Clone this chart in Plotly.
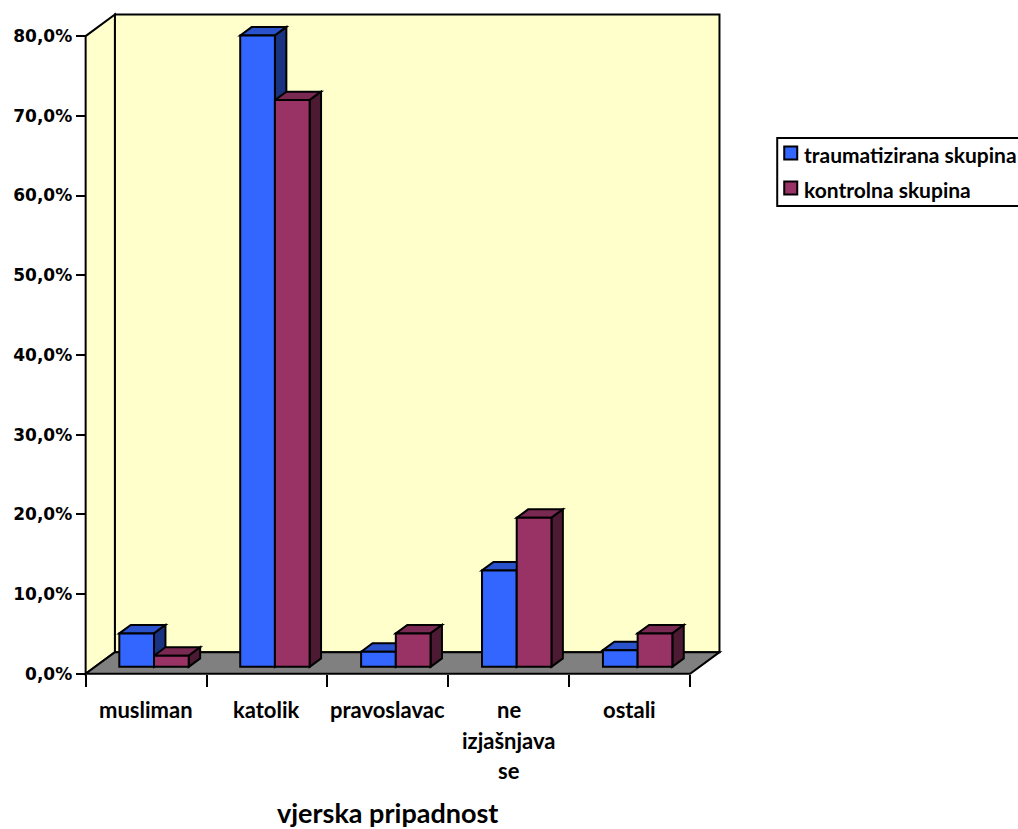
import plotly.graph_objects as go

# ---- data -----------------------------------------------------------------
categories = ["musliman", "katolik", "pravoslavac", "ne izjašnjava se", "ostali"]
series_names = ["traumatizirana skupina", "kontrolna skupina"]
traumatizirana = [4.2, 79.2, 1.9, 12.1, 2.1]
kontrolna = [1.4, 71.1, 4.2, 18.7, 4.2]
y_ticks = [0, 10, 20, 30, 40, 50, 60, 70, 80]
y_tick_labels = [f"{v:.1f}".replace(".", ",") + "%" for v in y_ticks]
x_title = "vjerska pripadnost"

# ---- style ----------------------------------------------------------------
FRONT = ["#3366FF", "#993366"]
TOP = ["#2952CC", "#7A2952"]
SIDE = ["#1A3380", "#4D1A33"]
WALL = "#FFFFCC"
FLOOR = "#808080"
EDGE = "black"
LABEL_FONT = dict(family="Lato", size=22, color="black", weight="bold")
TICK_FONT = dict(family="DejaVu Sans", size=17, color="black", weight="bold")

# ---- geometry of the pseudo-3D box ----------------------------------------
W, H = 1018, 829
X0_PX, X_UNIT = 86.0, 120.8      # pixel of x=0 and pixels per category
Y0_PX, Y_UNIT = 674.3, 7.98      # pixel of 0 % and pixels per percent
XMIN, XMAX = -0.03, 5.28
YMIN, YMAX = -0.4, 83.4
ML = X0_PX + XMIN * X_UNIT
MR = W - (X0_PX + XMAX * X_UNIT)
MT = Y0_PX - YMAX * Y_UNIT
MB = H - (Y0_PX - YMIN * Y_UNIT)

DEPTH_X = 29.3 / X_UNIT          # floor depth, expressed in axis units
DEPTH_Y = 21.7 / Y_UNIT
FRONT_DEPTH = 0.32               # bars' front plane (fraction of floor depth)
BAR_DEPTH = 0.39                 # bar thickness (fraction of floor depth)
BAR_W = 0.287
PAIR_SHIFT = -0.012

n = len(categories)
top_val = y_ticks[-1]


def poly(points, fill, layer="below"):
    d = "M " + " L ".join(f"{x},{y}" for x, y in points) + " Z"
    return dict(type="path", path=d, xref="x", yref="y", fillcolor=fill,
                line=dict(color=EDGE, width=2), layer=layer)


shapes = []
# side wall, back wall, floor
shapes.append(poly([(0, 0), (0, top_val), (DEPTH_X, top_val + DEPTH_Y), (DEPTH_X, DEPTH_Y)], WALL))
shapes.append(poly([(DEPTH_X, DEPTH_Y), (DEPTH_X, top_val + DEPTH_Y),
                    (n + DEPTH_X, top_val + DEPTH_Y), (n + DEPTH_X, DEPTH_Y)], WALL))
shapes.append(poly([(0, 0), (n, 0), (n + DEPTH_X, DEPTH_Y), (DEPTH_X, DEPTH_Y)], FLOOR))

bx, by = FRONT_DEPTH * DEPTH_X, FRONT_DEPTH * DEPTH_Y
dx, dy = BAR_DEPTH * DEPTH_X, BAR_DEPTH * DEPTH_Y
series = [traumatizirana, kontrolna]


def bar_left(k, i):
    return k + 0.5 + PAIR_SHIFT + bx + (i - 1) * BAR_W


# top and side faces of every bar
for k in range(n):
    for i, vals in enumerate(series):
        xl = bar_left(k, i)
        xr = xl + BAR_W
        b = by
        t = by + vals[k]
        shapes.append(poly([(xl, t), (xl + dx, t + dy), (xr + dx, t + dy), (xr, t)], TOP[i]))
        shapes.append(poly([(xr, b), (xr + dx, b + dy), (xr + dx, t + dy), (xr, t)], SIDE[i]))

fig = go.Figure()
# front faces of the bars
for i, vals in enumerate(series):
    fig.add_trace(go.Bar(
        x=[bar_left(k, i) + BAR_W / 2 for k in range(n)],
        y=vals,
        base=[by] * n,
        width=[BAR_W] * n,
        name=series_names[i],
        marker=dict(color=FRONT[i], line=dict(color=EDGE, width=2)),
        showlegend=False,
    ))

annotations = []
# category labels, one word per line
for k, cat in enumerate(categories):
    for j, word in enumerate(cat.split(" ")):
        annotations.append(dict(x=k + 0.5, y=0, xref="x", yref="y", text=word,
                                showarrow=False, xanchor="center", yanchor="middle",
                                yshift=-36 - 30.5 * j, font=LABEL_FONT))
annotations.append(dict(x=n / 2, y=0, xref="x", yref="y", text=x_title, showarrow=False,
                        xanchor="center", yanchor="middle", yshift=-139,
                        font=dict(family="Lato", size=27, color="black", weight="bold")))

# legend box drawn with paper coordinates
PW = W - ML - MR
PH = H - MT - MB


def fx(px):
    return (px - ML) / PW


def fy(py):
    return 1 - (py - MT) / PH


shapes.append(dict(type="rect", xref="paper", yref="paper", x0=fx(777), x1=fx(1024),
                   y0=fy(206), y1=fy(138), line=dict(color=EDGE, width=2),
                   fillcolor="white", layer="above"))
for i, name in enumerate(series_names):
    cy = 153 + 35 * i
    shapes.append(dict(type="rect", xref="paper", yref="paper", x0=fx(784), x1=fx(797),
                       y0=fy(cy + 6.5), y1=fy(cy - 6.5), fillcolor=FRONT[i],
                       line=dict(color=EDGE, width=2), layer="above"))
    annotations.append(dict(x=fx(802), y=fy(cy + 1), xref="paper", yref="paper", text=name,
                            showarrow=False, xanchor="left", yanchor="middle",
                            font=dict(family="Lato", size=21, color="black", weight="bold")))

fig.update_layout(
    width=W, height=H,
    margin=dict(l=ML, r=MR, t=MT, b=MB, autoexpand=False),
    paper_bgcolor="white", plot_bgcolor="white",
    barmode="overlay",
    showlegend=False,
    shapes=shapes,
    annotations=annotations,
    xaxis=dict(range=[XMIN, XMAX], tickmode="array", tickvals=list(range(n + 1)),
               ticktext=[""] * (n + 1), ticks="outside", ticklen=12, tickwidth=2,
               tickcolor=EDGE, showgrid=False, zeroline=False, showline=False,
               anchor="free", position=(0 - YMIN) / (YMAX - YMIN), automargin=False),
    yaxis=dict(range=[YMIN, YMAX], tickmode="array", tickvals=y_ticks,
               ticktext=y_tick_labels, ticks="outside", ticklen=10,
               tickwidth=2, tickcolor=EDGE, tickfont=TICK_FONT, showgrid=False,
               zeroline=False, showline=False, anchor="free",
               position=(0 - XMIN) / (XMAX - XMIN), automargin=False),
)

fig.write_html("out.html")
